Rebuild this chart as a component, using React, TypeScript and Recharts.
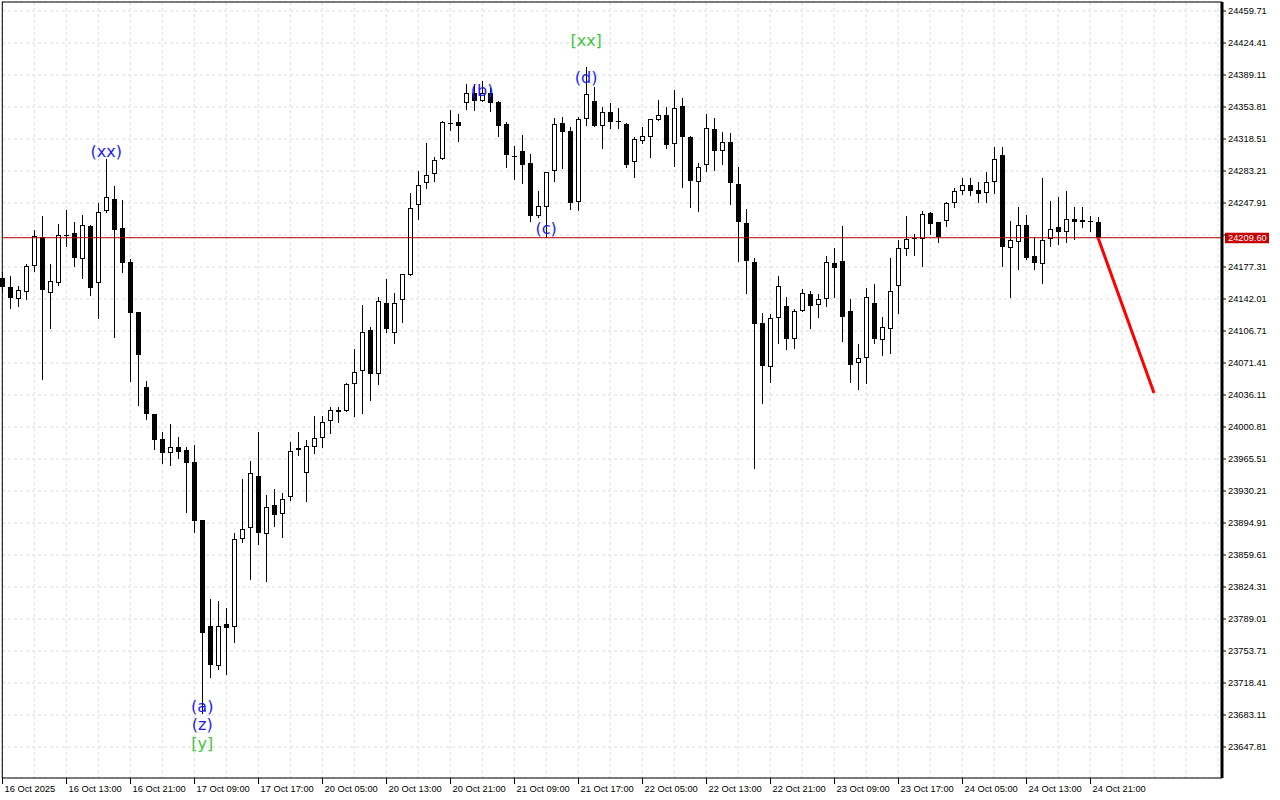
import React from 'react';
import { ComposedChart, Bar, Line, XAxis, YAxis, CartesianGrid, ReferenceLine, ReferenceDot } from 'recharts';

// ---- Data (H1 candles, 16 Oct 2025 -> 24 Oct 2025) ----
const opens = [
  24165.2, 24155.3, 24142.3, 24150.1, 24178.8, 24210.1, 24149.0, 24160.0, 24212.9, 24214.5,
  24185.8, 24222.5, 24159.3, 24239.4, 24252.0, 24220.0, 24182.5, 24127.3, 24044.6, 24014.8,
  23987.3, 23971.8, 23978.4, 23975.1, 23962.2, 23898.2, 23781.3, 23737.5, 23783.2, 23780.5,
  23876.9, 23889.1, 23946.4, 23882.5, 23914.4, 23904.5, 23923.3, 23975.1, 23949.7, 23978.4,
  23988.4, 24007.4, 24019.6, 24018.8, 24048.3, 24062.9, 24107.8, 24059.0, 24137.3, 24104.2,
  24140.9, 24168.2, 24245.4, 24269.6, 24279.6, 24296.1, 24336.5, 24337.3, 24357.9, 24369.3,
  24360.4, 24369.3, 24359.0, 24335.1, 24299.8, 24305.3, 24291.7, 24233.2, 24243.8, 24282.7,
  24335.8, 24327.3, 24249.3, 24340.2, 24360.4, 24333.2, 24348.0, 24338.4, 24335.1, 24292.8,
  24316.6, 24321.0, 24339.1, 24344.7, 24312.7, 24354.9, 24320.7, 24270.7, 24289.5, 24329.5,
  24305.3, 24315.2, 24268.5, 24225.5, 24183.2, 24115.2, 24066.7, 24120.7, 24134.0, 24098.2,
  24128.4, 24147.2, 24135.1, 24141.7, 24181.7, 24183.9, 24128.8, 24071.1, 24076.6, 24137.3,
  24096.8, 24108.9, 24156.7, 24196.8, 24209.6, 24207.9, 24236.9, 24227.0, 24227.7, 24247.6,
  24260.8, 24267.4, 24261.9, 24258.6, 24270.7, 24300.9, 24197.9, 24204.6, 24223.3, 24189.5,
  24181.0, 24207.9, 24221.1, 24215.6, 24230.3, 24226.6, 24227.7, 24226.6,
];
const highs = [
  24171.8, 24167.4, 24156.4, 24180.6, 24218.1, 24233.6, 24180.6, 24224.8, 24240.2, 24227.0,
  24234.3, 24224.0, 24248.2, 24296.5, 24266.7, 24250.9, 24186.1, 24127.3, 24051.9, 24015.2,
  23995.0, 24003.8, 23989.5, 23979.1, 23981.0, 23898.2, 23810.8, 23808.9, 23800.8, 23883.6,
  23943.5, 23963.0, 23995.3, 23925.5, 23932.1, 23927.7, 23984.3, 23995.0, 23986.2, 24012.9,
  24012.9, 24023.2, 24023.2, 24049.4, 24086.5, 24135.4, 24111.5, 24143.9, 24164.1, 24148.3,
  24169.3, 24258.6, 24283.2, 24313.8, 24298.3, 24338.4, 24350.5, 24346.1, 24379.2, 24378.9,
  24382.8, 24374.8, 24360.8, 24337.3, 24311.1, 24322.9, 24301.6, 24261.2, 24281.8, 24341.3,
  24342.5, 24331.4, 24343.1, 24398.3, 24375.5, 24353.5, 24357.9, 24352.4, 24335.8, 24321.0,
  24332.1, 24340.6, 24361.5, 24353.5, 24372.6, 24363.7, 24321.5, 24291.7, 24345.8, 24341.3,
  24325.9, 24324.8, 24287.6, 24241.0, 24186.9, 24126.2, 24125.1, 24167.1, 24143.9, 24131.0,
  24152.7, 24150.8, 24147.2, 24189.5, 24197.9, 24222.5, 24141.7, 24092.0, 24153.8, 24158.6,
  24121.8, 24187.2, 24206.8, 24233.6, 24213.7, 24239.1, 24238.0, 24227.0, 24249.3, 24264.8,
  24275.2, 24275.2, 24271.1, 24281.8, 24309.4, 24309.4, 24228.1, 24243.2, 24234.3, 24210.1,
  24275.2, 24249.8, 24254.5, 24261.2, 24243.5, 24243.5, 24233.6, 24232.1,
];
const lows = [
  24149.7, 24132.4, 24134.6, 24142.3, 24173.2, 24054.1, 24110.4, 24157.8, 24200.5, 24178.4,
  24165.5, 24146.4, 24121.4, 24238.0, 24100.4, 24172.1, 24051.9, 24025.1, 24009.3, 23976.2,
  23960.8, 23958.9, 23966.3, 23907.4, 23885.3, 23685.0, 23725.4, 23734.2, 23728.4, 23764.0,
  23874.3, 23833.5, 23872.1, 23831.3, 23891.9, 23879.8, 23920.3, 23970.3, 23919.5, 23972.5,
  23979.1, 23994.5, 24006.7, 24018.5, 24012.9, 24015.9, 24030.6, 24047.9, 24105.9, 24093.8,
  24117.0, 24168.2, 24229.9, 24264.5, 24272.5, 24296.1, 24328.8, 24316.6, 24351.3, 24350.5,
  24360.4, 24349.7, 24322.2, 24288.0, 24274.4, 24270.3, 24228.4, 24232.1, 24210.1, 24272.5,
  24286.9, 24241.6, 24240.2, 24334.0, 24333.2, 24308.9, 24330.3, 24331.0, 24288.0, 24276.9,
  24313.8, 24299.0, 24339.1, 24308.9, 24288.7, 24265.9, 24243.8, 24239.4, 24283.5, 24284.6,
  24290.6, 24246.5, 24184.3, 24148.3, 23955.3, 24027.6, 24050.8, 24093.8, 24086.5, 24087.6,
  24128.4, 24110.4, 24122.5, 24134.6, 24144.6, 24096.0, 24050.8, 24042.4, 24049.7, 24093.8,
  24080.6, 24082.8, 24126.2, 24190.6, 24190.6, 24178.8, 24213.7, 24204.6, 24222.9, 24243.8,
  24258.2, 24257.1, 24249.3, 24249.3, 24259.3, 24178.8, 24144.6, 24174.8, 24185.8, 24175.1,
  24160.0, 24200.5, 24202.4, 24205.2, 24207.9, 24221.1, 24217.4, 24209.6,
];
const closes = [
  24155.3, 24143.5, 24151.6, 24178.1, 24211.8, 24152.3, 24161.5, 24212.9, 24212.9, 24186.9,
  24223.3, 24154.5, 24237.7, 24254.2, 24217.8, 24182.1, 24126.9, 24080.6, 24015.5, 23986.8,
  23971.8, 23978.4, 23972.9, 23961.4, 23897.5, 23773.3, 23738.3, 23781.3, 23779.4, 23876.9,
  23888.0, 23949.7, 23884.2, 23912.9, 23904.1, 23921.7, 23974.7, 23978.0, 23979.5, 23988.4,
  24006.7, 24019.6, 24017.7, 24048.3, 24061.2, 24105.9, 24059.0, 24139.8, 24108.6, 24137.3,
  24169.3, 24242.1, 24267.4, 24278.5, 24295.3, 24337.3, 24336.5, 24333.2, 24369.3, 24360.8,
  24369.3, 24357.9, 24333.2, 24301.2, 24298.3, 24290.2, 24233.9, 24244.6, 24281.8, 24334.7,
  24326.6, 24248.2, 24340.2, 24368.2, 24333.2, 24348.0, 24337.6, 24336.9, 24289.8, 24318.5,
  24321.5, 24340.6, 24344.7, 24311.9, 24352.4, 24320.2, 24272.5, 24287.6, 24330.3, 24304.9,
  24314.9, 24269.6, 24227.3, 24184.3, 24114.1, 24068.4, 24120.7, 24156.0, 24098.2, 24128.4,
  24148.3, 24134.6, 24141.7, 24182.5, 24176.5, 24122.5, 24069.5, 24076.6, 24143.9, 24098.2,
  24110.8, 24150.5, 24197.9, 24208.5, 24207.9, 24235.5, 24225.1, 24210.1, 24247.6, 24260.8,
  24267.4, 24261.5, 24258.2, 24270.7, 24296.1, 24199.7, 24206.8, 24223.3, 24187.6, 24182.1,
  24206.8, 24218.9, 24216.3, 24229.9, 24227.3, 24228.8, 24227.7, 24209.6,
];

const xLabels = [
  '16 Oct 2025', '16 Oct 13:00', '16 Oct 21:00', '17 Oct 09:00', '17 Oct 17:00', '20 Oct 05:00',
  '20 Oct 13:00', '20 Oct 21:00', '21 Oct 09:00', '21 Oct 17:00', '22 Oct 05:00', '22 Oct 13:00',
  '22 Oct 21:00', '23 Oct 09:00', '23 Oct 17:00', '24 Oct 05:00', '24 Oct 13:00', '24 Oct 21:00',
];
const LABEL_EVERY = 8;
const GRID_EVERY = 4;
const TOTAL_SLOTS = 153;

const yTicks = [
  24459.71, 24424.41, 24389.11, 24353.81, 24318.51, 24283.21, 24247.91, 24212.61, 24177.31,
  24142.01, 24106.71, 24071.41, 24036.11, 24000.81, 23965.51, 23930.21, 23894.91, 23859.61,
  23824.31, 23789.01, 23753.71, 23718.41, 23683.11, 23647.81,
];
const yDomain = [23613.63, 24469.63];
const lastPrice = 24209.6;

const forecastIdx = [137, 144];
const forecastVals = [24209.6, 24038.3];

const BLUE = '#1a1aff';
const GREEN = '#3cc83c';
const annotations = [
  { i: 13, price: 24305.3, text: '(xx)', color: BLUE },
  { i: 60, price: 24372.6, text: '(b)', color: BLUE },
  { i: 68, price: 24220.3, text: '(c)', color: BLUE },
  { i: 73, price: 24386.9, text: '(d)', color: BLUE },
  { i: 73, price: 24427.7, text: '[xx]', color: GREEN },
  { i: 25, price: 23693.0, text: '(a)', color: BLUE },
  { i: 25, price: 23673.2, text: '(z)', color: BLUE },
  { i: 25, price: 23652.2, text: '[y]', color: GREEN },
];

// ---- Table built from arrays ----
const data = Array.from({ length: TOTAL_SLOTS }, (_, i) => {
  const has = i < opens.length;
  const fi = forecastIdx.indexOf(i);
  return {
    i,
    open: has ? opens[i] : null,
    high: has ? highs[i] : null,
    low: has ? lows[i] : null,
    close: has ? closes[i] : null,
    range: has ? [lows[i], highs[i]] : null,
    forecast: fi >= 0 ? forecastVals[fi] : null,
  };
});
const gridTicks = Array.from({ length: Math.floor((TOTAL_SLOTS - 1) / GRID_EVERY) + 1 }, (_, k) => k * GRID_EVERY);

const AXIS_FONT = '"Liberation Sans", Arial, sans-serif';

const Candle = (props: any) => {
  const { x, y, width, height, payload } = props;
  if (!payload || payload.open == null) return null;
  const top = Math.min(y, y + height);
  const bot = Math.max(y, y + height);
  const span = payload.high - payload.low;
  const k = span > 0 ? (bot - top) / span : 0;
  const yO = top + (payload.high - payload.open) * k;
  const yC = top + (payload.high - payload.close) * k;
  const cx = Math.round(x + width / 2) + 0.5;
  const bull = payload.close > payload.open;
  const bTop = Math.round(Math.min(yO, yC));
  const bBot = Math.round(Math.max(yO, yC));
  return (
    <g>
      <line x1={cx} x2={cx} y1={Math.round(top)} y2={Math.round(bot) + 1} stroke="#000" strokeWidth={1} />
      {bull ? (
        <rect x={cx - 2} y={bTop + 0.5} width={4} height={Math.max(bBot - bTop - 1, 0)} fill="#fff" stroke="#000" strokeWidth={1} />
      ) : (
        <rect x={cx - 2.5} y={bTop} width={5} height={Math.max(bBot - bTop, 1)} fill="#000" />
      )}
    </g>
  );
};

const XTick = (props: any) => {
  const { x, y, payload } = props;
  const v = payload.value;
  if (v % LABEL_EVERY !== 0) return null;
  const label = xLabels[v / LABEL_EVERY];
  if (!label) return null;
  const px = Math.round(x) + 0.5;
  return (
    <g>
      <line x1={px} x2={px} y1={y} y2={y + 6} stroke="#000" strokeWidth={1} />
      <text x={px + 2} y={y + 14} fontSize={9.3} fontFamily={AXIS_FONT} fill="#000" textAnchor="start">
        {label}
      </text>
    </g>
  );
};

const PriceTag = (props: any) => {
  const vb = props.viewBox || {};
  const right = (vb.x || 0) + (vb.width || 0);
  const y = vb.y || 0;
  return (
    <g>
      <rect x={right + 3} y={y - 5} width={44} height={10.5} fill="#c80000" />
      <text x={right + 6} y={y + 3.5} fontSize={9.3} fontFamily={AXIS_FONT} fill="#fff">
        {lastPrice.toFixed(2)}
      </text>
    </g>
  );
};

export default function App() {
  return (
    <div style={{ position: 'absolute', left: 0, top: 0, width: 1280, height: 800, background: '#fff', fontFamily: AXIS_FONT }}>
      <ComposedChart
        width={1280}
        height={800}
        data={data}
        margin={{ top: 2, right: 0, bottom: 0, left: 2 }}
      >
        <CartesianGrid stroke="#dcdcdc" strokeDasharray="3 3" />
        <XAxis
          dataKey="i"
          type="category"
          ticks={gridTicks}
          interval={0}
          tick={<XTick />}
          tickLine={false}
          tickSize={0}
          tickMargin={0}
          height={22}
          padding={{ left: -3.7, right: 0 }}
          axisLine={{ stroke: '#000', strokeWidth: 1 }}
        />
        <YAxis
          orientation="right"
          type="number"
          domain={yDomain}
          allowDataOverflow
          ticks={yTicks}
          interval={0}
          width={58}
          tickSize={4}
          tickMargin={2}
          tickLine={{ stroke: '#000' }}
          axisLine={{ stroke: '#000', strokeWidth: 3 }}
          tick={{ fill: '#000', fontSize: 9.3, fontFamily: AXIS_FONT }}
          tickFormatter={(v: number) => (Math.abs(v - lastPrice) < 8 ? '' : v.toFixed(2))}
        />
        <ReferenceLine y={yDomain[1]} stroke="#000" strokeWidth={1} />
        <ReferenceLine x={0} stroke="#000" strokeWidth={1} />
        <ReferenceLine y={lastPrice} stroke="#b00000" strokeWidth={1} label={<PriceTag />} />
        <Bar dataKey="range" shape={<Candle />} isAnimationActive={false} barSize={6} />
        <Line
          dataKey="forecast"
          stroke="#ff0000"
          strokeWidth={3}
          dot={false}
          activeDot={false}
          connectNulls
          isAnimationActive={false}
        />
        {annotations.map((a, idx) => (
          <ReferenceDot
            key={idx}
            x={a.i}
            y={a.price}
            r={0}
            fill="none"
            stroke="none"
            label={{
              value: a.text,
              position: 'center',
              fill: a.color,
              fontSize: 16,
              fontFamily: '"DejaVu Sans", sans-serif',
            }}
          />
        ))}
      </ComposedChart>
    </div>
  );
}
